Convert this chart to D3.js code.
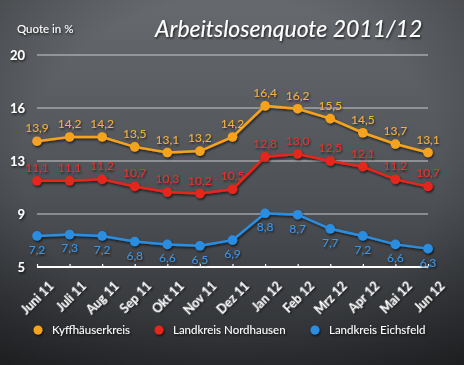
<!DOCTYPE html>
<html><head><meta charset="utf-8">
<script src="https://cdn.jsdelivr.net/npm/d3@7"></script>
<style>html,body{margin:0;padding:0;background:#333;}svg{display:block}</style>
</head><body>
<script>
const months = ["Juni 11","Juli 11","Aug 11","Sep 11","Okt 11","Nov 11","Dez 11","Jan 12","Feb 12","Mrz 12","Apr 12","Mai 12","Jun 12"];
const kyffhaeuser = [13.9,14.2,14.2,13.5,13.1,13.2,14.2,16.4,16.2,15.5,14.5,13.7,13.1];
const nordhausen = [11.1,11.1,11.2,10.7,10.3,10.2,10.5,12.8,13.0,12.5,12.1,11.2,10.7];
const eichsfeld = [7.2,7.3,7.2,6.8,6.6,6.5,6.9,8.8,8.7,7.7,7.2,6.6,6.3];
const tickValues = [5,8.75,12.5,16.25,20];
const tickLabels = ["5","9","13","16","20"];
const seriesNames = ["Kyffhäuserkreis","Landkreis Nordhausen","Landkreis Eichsfeld"];

const W=464,H=365;
const svg=d3.select("body").append("svg").attr("width",W).attr("height",H);
const defs=svg.append("defs");
const lg=defs.append("linearGradient").attr("id","bg").attr("x1",0).attr("y1",0).attr("x2",0).attr("y2",1);
lg.append("stop").attr("offset","0%").attr("stop-color","#66696e");
lg.append("stop").attr("offset","55%").attr("stop-color","#4d5055");
lg.append("stop").attr("offset","100%").attr("stop-color","#2c2e31");
const rg=defs.append("radialGradient").attr("id","vig").attr("cx","50%").attr("cy","45%").attr("r","75%");
rg.append("stop").attr("offset","60%").attr("stop-color","#000").attr("stop-opacity",0);
rg.append("stop").attr("offset","100%").attr("stop-color","#000").attr("stop-opacity",0.35);
const f=defs.append("filter").attr("id","sh").attr("x","-20%").attr("y","-20%").attr("width","140%").attr("height","140%");
f.append("feDropShadow").attr("dx",1).attr("dy",1.5).attr("stdDeviation",0.8).attr("flood-color","#000").attr("flood-opacity",0.7);

svg.append("rect").attr("width",W).attr("height",H).attr("fill","url(#bg)");
svg.append("rect").attr("width",W).attr("height",H).attr("fill","url(#vig)");

const x=d3.scalePoint().domain(months).range([37,428]);
const y=d3.scaleLinear().domain([5,20]).range([267,55]);

const font="Lato, 'Open Sans', sans-serif";

// title
svg.append("text").attr("x",155).attr("y",37).attr("fill","#fff").attr("font-family",font)
  .attr("font-style","italic").attr("font-size",23).attr("filter","url(#sh)").text("Arbeitslosenquote 2011/12");
svg.append("text").attr("x",17).attr("y",33).attr("fill","#fff").attr("font-family",font)
  .attr("font-size",11.5).attr("filter","url(#sh)").text("Quote in %");

// grid
const g=svg.append("g");
g.selectAll("line.grid").data(tickValues.slice(1)).join("line")
  .attr("x1",37).attr("x2",428).attr("y1",d=>y(d)).attr("y2",d=>y(d))
  .attr("stroke","#c9cbce").attr("stroke-width",1.2);
g.selectAll("text.yl").data(tickValues).join("text")
  .attr("x",25).attr("y",d=>y(d)+5).attr("text-anchor","end").attr("fill","#fff")
  .attr("font-family",font).attr("font-weight","bold").attr("font-size",13).attr("filter","url(#sh)")
  .text((d,i)=>tickLabels[i]);

// x axis
const xa=svg.append("g").attr("transform",`translate(0,${y(5)})`)
  .call(d3.axisBottom(x).tickSizeInner(-3).tickSizeOuter(0).tickPadding(0));
xa.select(".domain").attr("stroke","#fff").attr("stroke-width",1.8).attr("d",`M37,0H428`);
xa.selectAll(".tick line").attr("stroke","#fff").attr("stroke-width",1.2);
xa.selectAll(".tick text").attr("fill","#fff").attr("font-family",font).attr("font-size",12.5)
  .attr("font-weight","bold")
  .attr("text-anchor","end").attr("filter","url(#sh)")
  .attr("x",0).attr("y",0).attr("dy",0)
  .attr("transform","translate(17,20) rotate(-45)");

const colors=["#f5a31f","#e5261a","#2a8de0"];
const labelColors=["#f4b040","#e8322a","#3a95e6"];
const data=[kyffhaeuser,nordhausen,eichsfeld];
const offs=[-9,-9,18];
const line=d3.line().x((d,i)=>x(months[i])).y(d=>y(d));
data.forEach((s,k)=>{
  const gg=svg.append("g").attr("filter","url(#sh)");
  gg.append("path").datum(s).attr("d",line).attr("fill","none").attr("stroke",colors[k]).attr("stroke-width",2.5);
  gg.selectAll("circle").data(s).join("circle").attr("cx",(d,i)=>x(months[i])).attr("cy",d=>y(d)).attr("r",4.8).attr("fill",colors[k]);
  gg.selectAll("text").data(s).join("text").attr("x",(d,i)=>x(months[i])).attr("y",d=>y(d)+offs[k])
    .attr("text-anchor","middle").attr("fill",labelColors[k]).attr("font-family",font).attr("font-size",12)
    .text(d=>d.toFixed(1).replace(".",","));
});

// legend
const lx=[38,159,315];
seriesNames.forEach((n,k)=>{
  const gg=svg.append("g").attr("filter","url(#sh)");
  gg.append("circle").attr("cx",lx[k]).attr("cy",330).attr("r",4.5).attr("fill",colors[k]);
  gg.append("text").attr("x",lx[k]+14).attr("y",334).attr("fill","#fff").attr("font-family",font).attr("font-size",11.5).text(n);
});
</script>
</body></html>
